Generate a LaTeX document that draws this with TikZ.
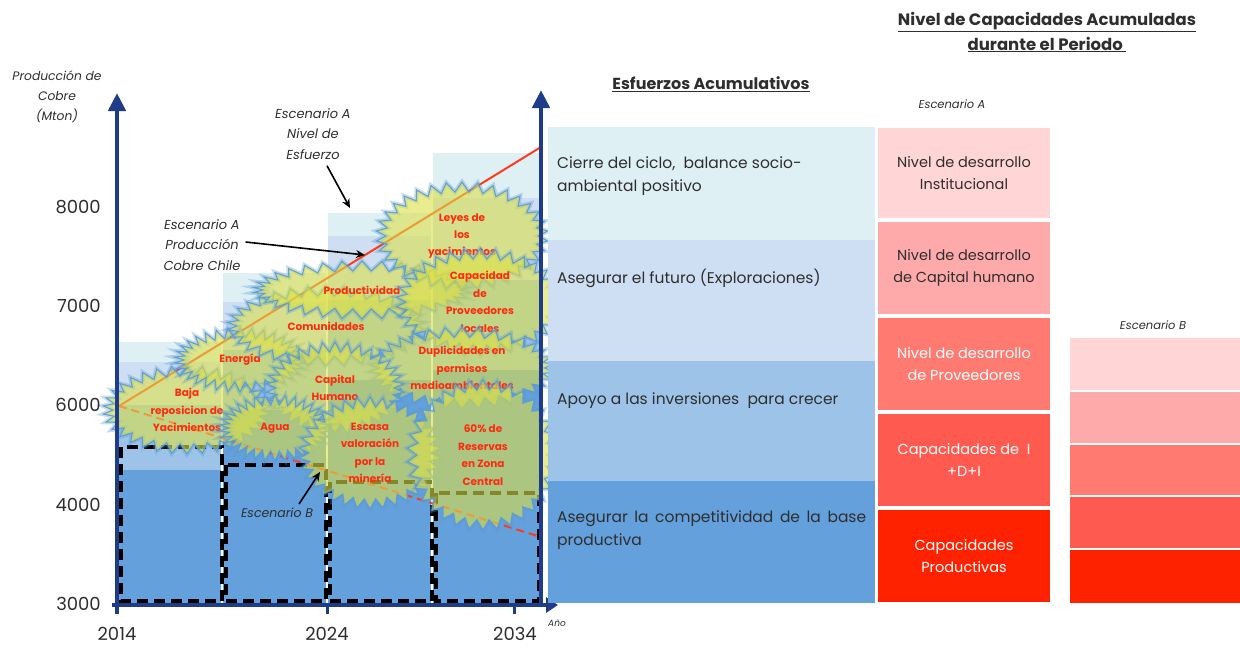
\documentclass[tikz,border=0pt]{standalone}
\usepackage{fontspec}
\setmainfont{Poppins}
\usetikzlibrary{shapes.symbols,arrows.meta}
\definecolor{axisblue}{HTML}{1F3C88}
\definecolor{lay1}{HTML}{DFF0F5}
\definecolor{lay2}{HTML}{CFDFF3}
\definecolor{lay3}{HTML}{9DC3E8}
\definecolor{lay4}{HTML}{64A0DC}
\definecolor{rA}{HTML}{FFD5D5}
\definecolor{rB}{HTML}{FFAAAA}
\definecolor{rC}{HTML}{FF7A70}
\definecolor{rD}{HTML}{FF5A50}
\definecolor{rE}{HTML}{FF2200}
\definecolor{bfill}{HTML}{DCE046}
\definecolor{bedge}{HTML}{5B9BD5}
\definecolor{bred}{HTML}{FF2A10}
\definecolor{txt}{HTML}{2E2E2E}
\definecolor{lred}{HTML}{FF3A1A}
\begin{document}
\begin{tikzpicture}[x=1pt,y=-1pt,
  burst/.style={shape=starburst, random starburst=0, starburst points=34,
    starburst point height=10pt, fill=bfill, fill opacity=0.6, text opacity=1,
    draw=bedge, draw opacity=0.9, line width=1.1pt, text=bred, align=center,
    inner sep=0pt, font=\fontsize{10.5}{17.5}\selectfont\bfseries,
    preaction={draw=bedge, draw opacity=0.35, line width=4.5pt}},
  body/.style={text=txt, font=\fontsize{15.5}{22.5}\selectfont, inner sep=0pt, align=left},
  rbox/.style={minimum width=172pt, inner sep=0pt, align=center,
    font=\fontsize{14.5}{22}\selectfont},
  ann/.style={text=txt, font=\fontsize{13}{20.5}\selectfont\itshape, align=center, inner sep=0pt},
  ticklab/.style={text=txt, font=\fontsize{18}{20}\selectfont, inner sep=0pt},
  annarrow/.style={draw=black, line width=1.6pt, -{Stealth[length=9pt,width=8pt]}},
  dbox/.style={draw=black, line width=3.3pt, dash pattern=on 11pt off 6pt},
  axis/.style={draw=axisblue, line width=4.5pt},
  title/.style={text=txt, font=\fontsize{16}{25}\selectfont\bfseries, align=center, inner sep=0pt}
]
\useasboundingbox (0,0) rectangle (1240,646);

% ---- chart columns
\fill[lay1] (117,342) rectangle (221,362);
\fill[lay2] (117,362) rectangle (221,405);
\fill[lay3] (117,405) rectangle (221,470);
\fill[lay4] (117,470) rectangle (221,603);
\fill[lay1] (223,273) rectangle (326,302);
\fill[lay2] (223,302) rectangle (326,350);
\fill[lay3] (223,350) rectangle (326,410);
\fill[lay4] (223,410) rectangle (326,603);
\fill[lay1] (328,213) rectangle (431,236);
\fill[lay2] (328,236) rectangle (431,300);
\fill[lay3] (328,300) rectangle (431,380);
\fill[lay4] (328,380) rectangle (431,603);
\fill[lay1] (433,153) rectangle (541,198);
\fill[lay2] (433,198) rectangle (541,280);
\fill[lay3] (433,280) rectangle (541,370);
\fill[lay4] (433,370) rectangle (541,603);

% ---- Escenario B dashed boxes
\draw[dbox] (121,447) rectangle (222,601);
\draw[dbox] (226,465) rectangle (326,601);
\draw[dbox] (330,482) rectangle (432,601);
\draw[dbox] (436,493) rectangle (539,601);

% ---- production lines
\coordinate (s0) at (119,406);
\coordinate (sA) at (541,147);
\coordinate (sB) at (541,537);
\draw[lred, line width=2pt] (s0) -- (sA);
\draw[lred, line width=2pt, dash pattern=on 8pt off 5pt] (s0) -- (sB);

% ---- starbursts
\node[burst, minimum width=168pt, minimum height=88pt] (b1) at (187,410) {Baja\\reposicion de\\Yacimientos};
\node[burst, minimum width=132pt, minimum height=64pt] (b2) at (240,360) {Energía};
\node[burst, minimum width=198pt, minimum height=80pt] (b3) at (326,326) {Comunidades};
\node[burst, minimum width=218pt, minimum height=58pt] (b4) at (362,290) {Productividad};
\node[burst, minimum width=172pt, minimum height=108pt] (b5) at (462,236) {Leyes de\\los\\yacimientos};
\node[burst, minimum width=168pt, minimum height=104pt] (b6) at (480,302) {Capacidad\\de\\Proveedores\\locales};
\node[burst, minimum width=185pt, minimum height=78pt] (b7) at (462,368) {Duplicidades en\\permisos\\medioambientales};
\node[burst, minimum width=138pt, minimum height=92pt] (b8) at (335,388) {Capital\\Humano};
\node[burst, minimum width=112pt, minimum height=66pt] (b9) at (275,428) {Agua};
\node[burst, minimum width=142pt, minimum height=112pt] (b10) at (370,453) {Escasa\\valoración\\por la\\minería};
\node[burst, minimum width=152pt, minimum height=150pt] (b11) at (483,455) {60\% de\\Reservas\\en Zona\\Central};

% ---- annotations
\node[ann] (labE) at (313,134) {Escenario A\\Nivel de\\Esfuerzo};
\coordinate (tipE) at (350,208);
\draw[annarrow] ([xshift=14pt,yshift=-6pt]labE.south) -- (tipE);
\node[ann] (labP) at (202,245) {Escenario A\\Producción\\Cobre Chile};
\coordinate (tipP) at (365,255);
\draw[annarrow] ([xshift=5pt,yshift=3pt]labP.east) -- (tipP);
\node[ann, font=\fontsize{12.5}{15}\selectfont\itshape] (labB) at (277,513) {Escenario B};
\coordinate (tipB) at (320,472);
\draw[annarrow] ([xshift=22pt,yshift=4pt]labB.north) -- (tipB);

% ---- axes
\coordinate (o) at (117,614);
\coordinate (ytop) at (117,93);
\coordinate (xo) at (112,605);
\coordinate (xend) at (558,605);
\coordinate (r0) at (541,605);
\coordinate (rtop) at (541,90);
\draw[axis, -{Triangle[width=17pt,length=18pt]}] (o) -- (ytop);
\draw[axis, -{Triangle[width=17pt,length=18pt]}] (r0) -- (rtop);
\draw[axis, -{Triangle[width=15pt,length=12pt]}] (xo) -- (xend);
\draw[axisblue, line width=3pt] (327,605) -- (327,614);
\draw[axisblue, line width=3pt] (514,605) -- (514,614);

\node[ticklab, anchor=east] (y8) at (101,207) {8000};
\node[ticklab, anchor=east] (y7) at (101,306) {7000};
\node[ticklab, anchor=east] (y6) at (101,405) {6000};
\node[ticklab, anchor=east] (y4) at (101,505) {4000};
\node[ticklab, anchor=east] (y3) at (101,604) {3000};
\node[ticklab] (x1) at (117,634) {2014};
\node[ticklab] (x2) at (327,634) {2024};
\node[ticklab] (x3) at (515,634) {2034};
\node[text=txt, font=\fontsize{9}{10}\selectfont\itshape, inner sep=0pt] (ano) at (557,623) {Año};
\node[ann, font=\fontsize{12.3}{20}\selectfont\itshape] (ylab) at (57,97) {Producción de\\Cobre\\(Mton)};

% ---- right panel: esfuerzos
\node[title] (t1) at (711,84) {\underline{Esfuerzos Acumulativos}};
\fill[lay1] (548,127) rectangle (875,240);
\fill[lay2] (548,240) rectangle (875,361);
\fill[lay3] (548,361) rectangle (875,481);
\fill[lay4] (548,481) rectangle (875,603);
\node[body, anchor=west] (e1) at (557,176) {Cierre del ciclo,\ \ balance socio-\\ambiental positivo};
\node[body, anchor=west] (e2) at (557,278) {Asegurar el futuro (Exploraciones)};
\node[body, anchor=west] (e3) at (557,401) {Apoyo a las inversiones\ \ para crecer};
\node[body, anchor=west, text width=309pt, align=justify] (e4) at (557,530) {\hyphenpenalty=10000\exhyphenpenalty=10000 Asegurar la competitividad de la base productiva};

% ---- capacidades
\node[title, font=\fontsize{16.5}{25}\selectfont\bfseries] (t2) at (1047,32) {\underline{Nivel de Capacidades Acumuladas}\\\underline{durante el Periodo\ }};
\node[ann, font=\fontsize{11.5}{13}\selectfont\itshape] (sa) at (952,104) {Escenario A};
\node[rbox, fill=rA, text=txt, minimum height=90pt] (n1) at (964,173) {Nivel de desarrollo\\Institucional};
\node[rbox, fill=rB, text=txt, minimum height=92pt] (n2) at (964,268) {Nivel de desarrollo\\de Capital humano};
\node[rbox, fill=rC, text=white, minimum height=92pt] (n3) at (964,364) {Nivel de desarrollo\\de Proveedores};
\node[rbox, fill=rD, text=white, minimum height=92pt] (n4) at (964,460) {Capacidades de\ \ I\\+D+I};
\node[rbox, fill=rE, text=white, minimum height=92pt] (n5) at (964,556) {Capacidades\\Productivas};

\node[ann, font=\fontsize{11.5}{13}\selectfont\itshape] (sb) at (1153,325) {Escenario B};
\fill[rA] (1070,338) rectangle (1240,390);
\fill[rB] (1070,392) rectangle (1240,443);
\fill[rC] (1070,445) rectangle (1240,495);
\fill[rD] (1070,497) rectangle (1240,548);
\fill[rE] (1070,550) rectangle (1240,603);
\end{tikzpicture}
\end{document}
